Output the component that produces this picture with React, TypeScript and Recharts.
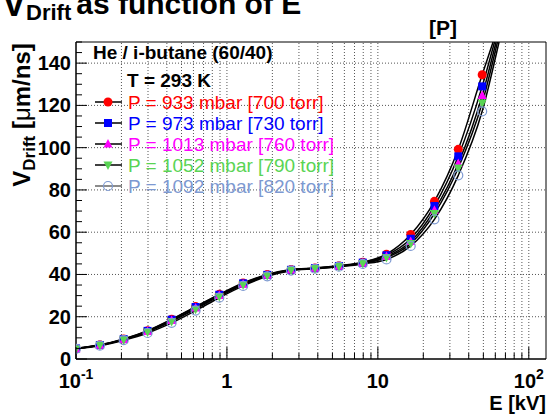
import React from 'react';
import { ComposedChart, Line, XAxis, YAxis, ReferenceLine, ReferenceArea } from 'recharts';

const FONT = "'Liberation Sans', Arial, Helvetica, sans-serif";

// Electric field values (kV)
const E_VALUES = [0.1, 0.144, 0.207, 0.298, 0.43, 0.62, 0.89, 1.28, 1.85, 2.66, 3.83, 5.52, 7.94, 11.4, 16.5, 23.7, 34.1, 49.1];

// Drift velocities (um/ns) per pressure
const V_933 = [5.0, 6.7, 9.5, 13.4, 18.8, 24.8, 30.6, 36.0, 40.0, 42.3, 43.1, 44.1, 45.8, 49.6, 58.9, 74.6, 99.2, 134.5];
const V_973 = [5.0, 6.6, 9.4, 13.3, 18.6, 24.6, 30.4, 35.8, 39.8, 42.2, 43.0, 44.0, 45.6, 49.1, 56.9, 72.4, 95.9, 129.0];
const V_1013 = [4.9, 6.5, 9.2, 13.0, 18.2, 24.1, 30.0, 35.4, 39.6, 42.1, 42.9, 43.9, 45.4, 48.5, 55.6, 70.4, 92.5, 124.7];
const V_1052 = [4.9, 6.5, 9.1, 12.8, 17.8, 23.6, 29.6, 35.1, 39.4, 42.0, 42.8, 43.8, 45.2, 48.0, 54.6, 68.8, 90.4, 121.1];
const V_1092 = [4.8, 6.3, 8.9, 12.3, 17.1, 22.9, 29.0, 34.6, 39.1, 41.8, 42.7, 43.7, 45.0, 47.1, 53.5, 66.1, 86.9, 117.2];

// Field at which each fitted curve leaves the top of the frame
const FIT_EXIT_E = [58.0, 59.3, 60.7, 62.0, 63.5];
const FIT_EXIT_V = 150;

const SERIES_LABELS = [
  'P = 933 mbar [700 torr]',
  'P = 973 mbar [730 torr]',
  'P = 1013 mbar [760 torr]',
  'P = 1052 mbar [790 torr]',
  'P = 1092 mbar [820 torr]',
];
const SERIES_COLORS = ['#ff0000', '#0000ff', '#ff00ff', '#59d454', '#7d99d1'];
const SERIES_MARKERS = ['circle', 'square', 'triUp', 'triDown', 'openCircle'];
const SERIES_VALUES = [V_933, V_973, V_1013, V_1052, V_1092];

const X_DOMAIN = [0.1, 130];
const Y_DOMAIN = [0, 150];
const X_TICKS = [0.1, 0.2, 0.3, 0.4, 0.5, 0.6, 0.7, 0.8, 0.9, 1, 2, 3, 4, 5, 6, 7, 8, 9, 10, 20, 30, 40, 50, 60, 70, 80, 90, 100];
const X_GRID = [0.2, 0.3, 0.4, 0.5, 0.6, 0.7, 0.8, 0.9, 1, 2, 3, 4, 5, 6, 7, 8, 9, 10, 20, 30, 40, 50, 60, 70, 80, 90, 100];
const X_LABEL_BASE: Record<string, string> = { '0.1': '10', '1': '1', '10': '10', '100': '10' };
const X_LABEL_EXP: Record<string, string> = { '0.1': '-1', '100': '2' };
const Y_TICKS = [0, 5, 10, 15, 20, 25, 30, 35, 40, 45, 50, 55, 60, 65, 70, 75, 80, 85, 90, 95, 100, 105, 110, 115, 120, 125, 130, 135, 140, 145, 150];
const Y_LABELS = [0, 20, 40, 60, 80, 100, 120, 140];
const Y_GRID = [20, 40, 60, 80, 100, 120, 140];

function Marker({ kind, cx, cy, color }: { kind: string; cx: number; cy: number; color: string }) {
  if (kind === 'circle') return <circle cx={cx} cy={cy} r={4.5} fill={color} />;
  if (kind === 'square') return <rect x={cx - 4} y={cy - 4} width={8} height={8} fill={color} />;
  if (kind === 'triUp')
    return <polygon points={`${cx},${cy - 5} ${cx - 4.5},${cy + 3.5} ${cx + 4.5},${cy + 3.5}`} fill={color} />;
  if (kind === 'triDown')
    return <polygon points={`${cx},${cy + 5} ${cx - 4.5},${cy - 3.5} ${cx + 4.5},${cy - 3.5}`} fill={color} />;
  return <circle cx={cx} cy={cy} r={4.5} fill="none" stroke={color} strokeWidth={1.2} />;
}

function seriesData(values: number[], exitE: number, withExit: boolean) {
  const pts: any[] = E_VALUES.map((e, i) => ({ e, v: values[i] }));
  if (withExit) pts.push({ e: exitE, v: FIT_EXIT_V, exit: true });
  return pts;
}

const XTick = (props: any) => {
  const { x, y, payload } = props;
  const key = String(payload.value);
  const major = X_LABEL_BASE[key] !== undefined;
  return (
    <g>
      <line x1={x} y1={y} x2={x} y2={y - (major ? 12 : 6)} stroke="#000" strokeWidth={1} />
      {major && (
        <text x={x} y={y + 29} textAnchor="middle" fontFamily={FONT} fontWeight="bold" fontSize={20} fill="#000">
          <tspan>{X_LABEL_BASE[key]}</tspan>
          {X_LABEL_EXP[key] && (
            <tspan dy={-9} fontSize={14}>
              {X_LABEL_EXP[key]}
            </tspan>
          )}
        </text>
      )}
    </g>
  );
};

const YTick = (props: any) => {
  const { x, y, payload } = props;
  const v = payload.value;
  const major = Y_LABELS.indexOf(v) >= 0;
  return (
    <g>
      <line x1={x} y1={y} x2={x + (major ? 11 : 6)} y2={y} stroke="#000" strokeWidth={1} />
      {major && (
        <text x={x - 5} y={y + 7} textAnchor="end" fontFamily={FONT} fontWeight="bold" fontSize={20} fill="#000">
          {v}
        </text>
      )}
    </g>
  );
};

export default function App() {
  return (
    <div style={{ position: 'absolute', left: 0, top: 0, width: 551, height: 416, background: '#fff' }}>
      <ComposedChart width={551} height={416} margin={{ top: 42, right: 5, bottom: 0, left: 0 }}>
        <XAxis
          dataKey="e"
          type="number"
          scale="log"
          domain={X_DOMAIN}
          allowDataOverflow
          ticks={X_TICKS}
          interval={0}
          tick={<XTick />}
          tickLine={false}
          tickSize={0}
          tickMargin={0}
          height={57}
          axisLine={{ stroke: '#000' }}
        />
        <YAxis
          dataKey="v"
          type="number"
          domain={Y_DOMAIN}
          allowDataOverflow
          ticks={Y_TICKS}
          interval={0}
          tick={<YTick />}
          tickLine={false}
          tickSize={0}
          tickMargin={0}
          width={76}
          axisLine={{ stroke: '#000' }}
        />
        {X_GRID.map((g) => (
          <ReferenceLine key={`gx-${g}`} x={g} stroke="#555" strokeDasharray="1 2" strokeWidth={1} />
        ))}
        {Y_GRID.map((g) => (
          <ReferenceLine key={`gy-${g}`} y={g} stroke="#555" strokeDasharray="1 2" strokeWidth={1} />
        ))}
        <ReferenceArea x1={X_DOMAIN[0]} x2={X_DOMAIN[1]} y1={Y_DOMAIN[0]} y2={Y_DOMAIN[1]} fill="none" stroke="#000" strokeWidth={1} fillOpacity={0} />
        {SERIES_VALUES.map((vals, i) => (
          <Line
            key={`fit-${i}`}
            data={seriesData(vals, FIT_EXIT_E[i], true)}
            dataKey="v"
            type="monotone"
            stroke="#000"
            strokeWidth={1.5}
            dot={false}
            activeDot={false}
            isAnimationActive={false}
          />
        ))}
        {SERIES_VALUES.map((vals, i) => (
          <Line
            key={`pts-${i}`}
            data={seriesData(vals, FIT_EXIT_E[i], false)}
            dataKey="v"
            stroke="none"
            activeDot={false}
            isAnimationActive={false}
            dot={(p: any) => (
              <Marker key={`m-${i}-${p.index}`} kind={SERIES_MARKERS[i]} cx={p.cx} cy={p.cy} color={SERIES_COLORS[i]} />
            )}
          />
        ))}
      </ComposedChart>
      <svg width={551} height={416} style={{ position: 'absolute', left: 0, top: 0, pointerEvents: 'none' }}>
        <text x={2} y={16} fontFamily={FONT} fontWeight="bold" fontSize={36} fill="#000">
          <tspan>V</tspan>
          <tspan dy={4} fontSize={22}>Drift</tspan>
          <tspan dy={-6} dx={5} fontSize={30}>as function of E</tspan>
        </text>
        <text x={443} y={35} textAnchor="middle" fontFamily={FONT} fontWeight="bold" fontSize={21} fill="#000">
          [P]
        </text>
        <text
          x={30}
          y={115}
          transform="rotate(-90, 30, 115)"
          textAnchor="middle"
          fontFamily={FONT}
          fontWeight="bold"
          fontSize={24}
          fill="#000"
        >
          <tspan>V</tspan>
          <tspan dy={5} fontSize={17}>Drift</tspan>
          <tspan dy={-5}> [</tspan>
          <tspan fontWeight="normal">μ</tspan>
          <tspan>m/ns]</tspan>
        </text>
        <text x={546} y={410} textAnchor="end" fontFamily={FONT} fontWeight="bold" fontSize={20} fill="#000">
          E [kV]
        </text>
        <text x={93} y={59} fontFamily={FONT} fontWeight="bold" fontSize={19} fill="#000">
          He / i-butane (60/40)
        </text>
        <text x={127} y={87} fontFamily={FONT} fontWeight="bold" fontSize={19} fill="#000">
          T = 293 K
        </text>
        {SERIES_LABELS.map((lab, i) => {
          const cy = 102 + i * 21;
          return (
            <g key={lab}>
              <line x1={95} y1={cy} x2={122} y2={cy} stroke={i === 4 ? '#666' : '#000'} strokeWidth={1.5} />
              <Marker kind={SERIES_MARKERS[i]} cx={108} cy={cy} color={SERIES_COLORS[i]} />
              <text x={128} y={cy + 7} fontFamily={FONT} fontSize={19} fill={SERIES_COLORS[i]}>
                {lab}
              </text>
            </g>
          );
        })}
      </svg>
    </div>
  );
}
